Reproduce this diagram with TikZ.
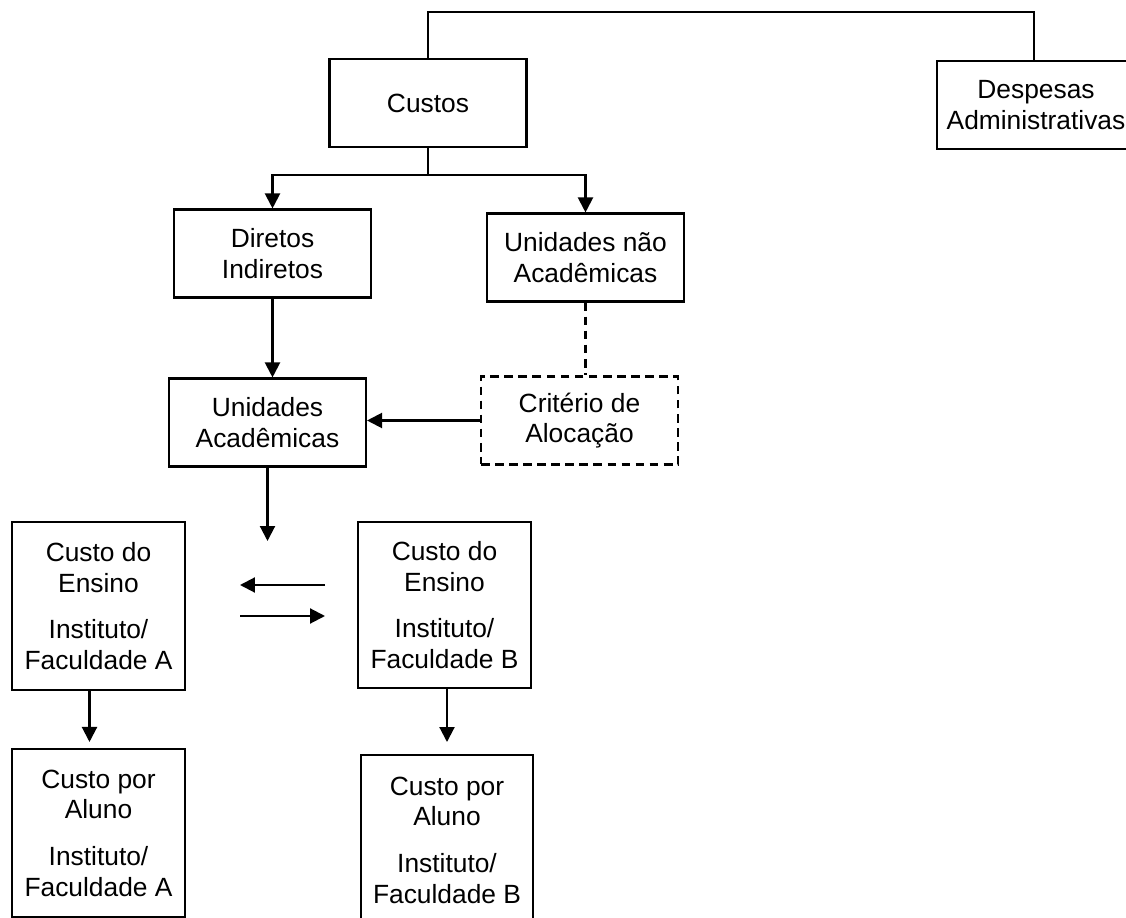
\documentclass[tikz,border=0pt]{standalone}
\usepackage{fontspec}
\setmainfont{Liberation Sans}
\usetikzlibrary{arrows.meta,calc}
\tikzset{
  >={Triangle[length=3mm, width=3mm]},
  font=\fontsize{15}{17.5}\selectfont,
  cbox/.style={draw, line width=1.2pt, align=center, inner sep=2pt,
               minimum width=3.94cm, minimum height=1.76cm},
  costbox/.style={cbox, minimum width=3.46cm, minimum height=3.36cm},
  critbox/.style={cbox, dash pattern={on 5pt off 3pt}},
  arr/.style={->, line width=1.2pt},
  lnk/.style={line width=1.2pt},
}

\begin{document}
\begin{tikzpicture}[x=0.02cm, y=-0.02cm]
      \useasboundingbox (0,0) rectangle (1126,918);
      \node[cbox] (custos) at (428,103) {Custos};
      \node[cbox, minimum width=3.96cm] (despesas) at (1036,105) {Despesas\\Administrativas};
      \node[cbox] (diretos) at (272.5,253.5) {Diretos\\Indiretos};
      \node[cbox] (unao) at (585.5,257.5) {Unidades não\\Acadêmicas};
      \node[cbox] (ua) at (267.5,422.5) {Unidades\\Acadêmicas};
      \node[critbox] (crit) at (579.5,420.5) {Critério de\\Alocação};
      \node[costbox] (ensA) at (98.5,606) {Custo do\\Ensino\\[9pt]Instituto/\\Faculdade A};
      \node[costbox, minimum height=3.32cm] (ensB) at (444.5,605) {Custo do\\Ensino\\[9pt]Instituto/\\Faculdade B};
      \node[costbox] (alunoA) at (98.5,833) {Custo por\\Aluno\\[9pt]Instituto/\\Faculdade A};
      \node[costbox, minimum width=3.44cm, minimum height=3.4cm] (alunoB) at (447,840) {Custo por\\Aluno\\[9pt]Instituto/\\Faculdade B};
      \coordinate (fork) at (custos.south |- 0,175);
      \coordinate (uaend) at (ua.south |- 0,541);
      \coordinate (trB) at (325,585);
      \coordinate (trA) at (240,585);
      \coordinate (tlA) at (240,616);
      \coordinate (tlB) at (325,616);
      \draw[lnk] (custos.north) -- (custos.north |- 0,12) -| ($(despesas.north)+(-2,0)$);
      \draw[lnk] (custos.south) -- (fork);
      \draw[arr] (fork) -| (diretos.north);
      \draw[arr] (fork) -| (unao.north);
      \draw[arr] (diretos.south) -- (diretos.south |- ua.north);
      \draw[lnk, dash pattern={on 5pt off 3pt}] (unao.south) -- (unao.south |- crit.north);
      \draw[arr] (crit.west) -- (crit.west -| ua.east);
      \draw[arr] (ua.south) -- (uaend);
      \draw[arr] (trB) -- (trA);
      \draw[arr] (tlA) -- (tlB);
      \draw[arr, shorten >=3.4pt] ($(ensA.south)+(-9,0)$) -- ($(alunoA.north)+(-9,0)$);
      \draw[arr, shorten >=6.8pt] (ensB.south -| alunoB.north) -- (alunoB.north);
  \end{tikzpicture}
\end{document}
